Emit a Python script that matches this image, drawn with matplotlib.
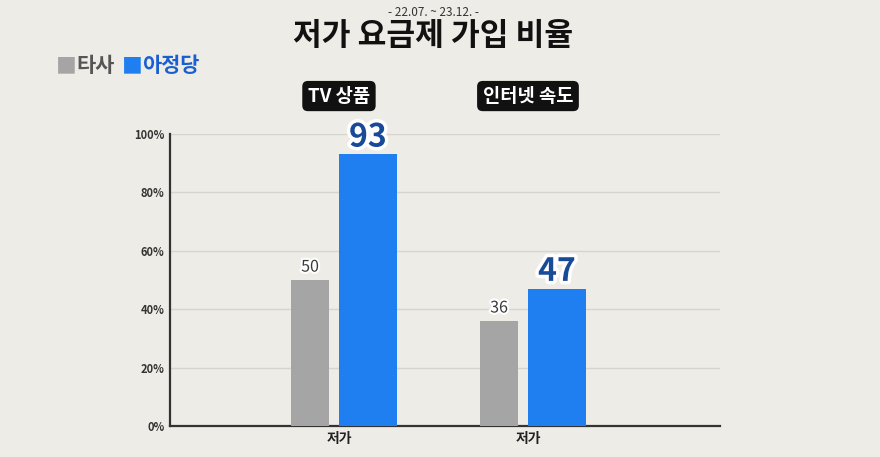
import matplotlib.pyplot as plt
import matplotlib.patheffects as pe
import numpy as np

plt.rcParams['font.family'] = ['Noto Sans CJK KR', 'DejaVu Sans']

# data
groups = ['TV 상품', '인터넷 속도']
tick_labels = ['저가', '저가']
others = [50, 36]        # 타사
ajd = [93, 47]           # 아정당
yticks = [0, 20, 40, 60, 80, 100]

bg = '#eeece7'
gray = '#a5a5a5'
blue = '#1f7ef0'

fig = plt.figure(figsize=(8.8, 4.57), dpi=100, facecolor=bg)
ax = fig.add_axes([170 / 880, 1 - 426 / 457, 550 / 880, 292 / 457])
ax.set_facecolor(bg)

x = np.arange(len(groups))
ax.bar(x - 0.153, others, width=0.2, color=gray, zorder=3)
ax.bar(x + 0.153, ajd, width=0.307, color=blue, zorder=3)

for xi, v in zip(x, others):
    ax.text(xi - 0.153, v + 1.5, str(v), ha='center', va='bottom', fontsize=11.5,
            fontweight='medium', color='#3a3a3a', zorder=4,
            path_effects=[pe.withStroke(linewidth=3, foreground='white')])
for xi, v in zip(x, ajd):
    ax.text(xi + 0.153, v + 0.3, str(v), ha='center', va='bottom', fontsize=23,
            fontweight='bold', color='#184a98', zorder=4,
            path_effects=[pe.withStroke(linewidth=5, foreground='white')])

ax.set_xlim(-0.894, 2.016)
ax.set_ylim(0, 100)
ax.set_yticks(yticks)
ax.set_yticklabels([f'{t}%' for t in yticks], fontsize=8, fontweight='bold', color='#333333')
ax.set_xticks(x)
ax.set_xticklabels(tick_labels, fontsize=10, fontweight='bold', color='#222222')
ax.tick_params(length=0, pad=4)
ax.grid(axis='y', color='#d6d4ce', linewidth=1, zorder=0)
for s in ['top', 'right']:
    ax.spines[s].set_visible(False)
for s in ['left', 'bottom']:
    ax.spines[s].set_color('#333333')
    ax.spines[s].set_linewidth(1.6)

# group header boxes
for xi, g in zip(x, groups):
    ax.text(xi, 113, g, ha='center', va='center', fontsize=13.5, fontweight='bold',
            color='white', zorder=5,
            bbox=dict(boxstyle='round,pad=0.3,rounding_size=0.3', fc='#111111', ec='none'))

# title and subtitle
fig.text(433 / 880, 1 - 12 / 457, '- 22.07. ~ 23.12. -', ha='center', va='center',
         fontsize=8.5, color='#333333')
fig.text(433 / 880, 1 - 36 / 457, '저가 요금제 가입 비율', ha='center', va='center',
         fontsize=22.5, fontweight='bold', color='#111111')

# legend
fig.text(56 / 880, 1 - 66 / 457, '■', ha='left', va='center', fontsize=15, color=gray)
fig.text(76 / 880, 1 - 66 / 457, '타사', ha='left', va='center', fontsize=15,
         fontweight='bold', color='#555555')
fig.text(122 / 880, 1 - 66 / 457, '■', ha='left', va='center', fontsize=15, color=blue)
fig.text(142 / 880, 1 - 66 / 457, '아정당', ha='left', va='center', fontsize=15,
         fontweight='bold', color='#1a5fd0')

fig.savefig('out.png', dpi=100, facecolor=bg)
